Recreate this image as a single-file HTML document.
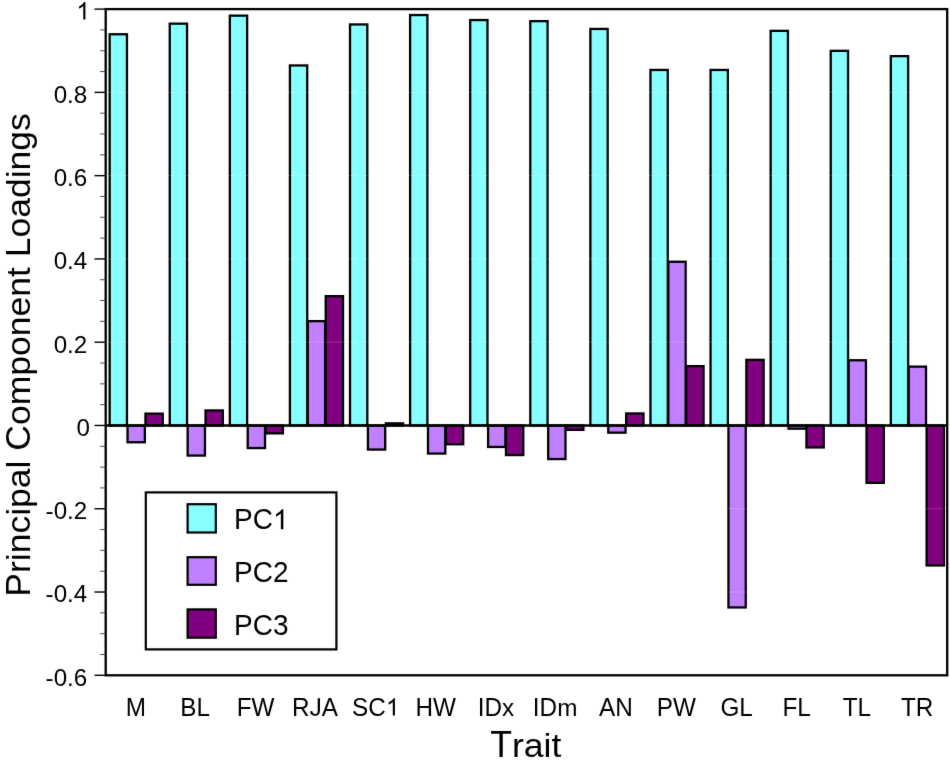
<!DOCTYPE html>
<html><head><meta charset="utf-8"><style>
html,body{margin:0;padding:0;background:#fff;width:950px;height:760px;overflow:hidden}
svg{display:block}
#w{}
text{font-family:"Liberation Sans", sans-serif;fill:#000;font-kerning:none}
</style></head><body>
<div id="w"><svg width="950" height="760" viewBox="0 0 950 760">
<defs><clipPath id="cabove" clipPathUnits="userSpaceOnUse"><rect x="-20" y="-100" width="200" height="100"/></clipPath><clipPath id="cbelow" clipPathUnits="userSpaceOnUse"><rect x="-20" y="-1" width="200" height="101"/></clipPath><filter id="bl" x="0" y="0" width="950" height="760" filterUnits="userSpaceOnUse" color-interpolation-filters="sRGB"><feConvolveMatrix order="3" kernelMatrix="0.00524 0.06192 0.00524 0.06192 0.73137 0.06192 0.00524 0.06192 0.00524" edgeMode="duplicate" preserveAlpha="true"/></filter></defs>
<g filter="url(#bl)">
<rect x="0" y="0" width="950" height="760" fill="#fff"/>
<rect x="109.65" y="34.25" width="17.30" height="391.25" fill="#88ffff" stroke="#000" stroke-width="2.3"/>
<rect x="127.55" y="425.50" width="17.30" height="16.75" fill="#c080ff" stroke="#000" stroke-width="2.3"/>
<rect x="145.45" y="413.65" width="17.30" height="11.85" fill="#800080" stroke="#000" stroke-width="2.3"/>
<rect x="169.74" y="23.65" width="17.30" height="401.85" fill="#88ffff" stroke="#000" stroke-width="2.3"/>
<rect x="187.64" y="425.50" width="17.30" height="30.05" fill="#c080ff" stroke="#000" stroke-width="2.3"/>
<rect x="205.54" y="410.45" width="17.30" height="15.05" fill="#800080" stroke="#000" stroke-width="2.3"/>
<rect x="229.83" y="15.65" width="17.30" height="409.85" fill="#88ffff" stroke="#000" stroke-width="2.3"/>
<rect x="247.73" y="425.50" width="17.30" height="22.55" fill="#c080ff" stroke="#000" stroke-width="2.3"/>
<rect x="265.63" y="425.50" width="17.30" height="7.85" fill="#800080" stroke="#000" stroke-width="2.3"/>
<rect x="289.92" y="65.45" width="17.30" height="360.05" fill="#88ffff" stroke="#000" stroke-width="2.3"/>
<rect x="307.82" y="321.15" width="17.30" height="104.35" fill="#c080ff" stroke="#000" stroke-width="2.3"/>
<rect x="325.72" y="296.15" width="17.30" height="129.35" fill="#800080" stroke="#000" stroke-width="2.3"/>
<rect x="350.01" y="24.45" width="17.30" height="401.05" fill="#88ffff" stroke="#000" stroke-width="2.3"/>
<rect x="367.91" y="425.50" width="17.30" height="24.05" fill="#c080ff" stroke="#000" stroke-width="2.3"/>
<rect x="385.81" y="423.35" width="17.30" height="2.15" fill="#800080" stroke="#000" stroke-width="2.3"/>
<rect x="410.10" y="15.05" width="17.30" height="410.45" fill="#88ffff" stroke="#000" stroke-width="2.3"/>
<rect x="428.00" y="425.50" width="17.30" height="28.05" fill="#c080ff" stroke="#000" stroke-width="2.3"/>
<rect x="445.90" y="425.50" width="17.30" height="18.75" fill="#800080" stroke="#000" stroke-width="2.3"/>
<rect x="470.19" y="20.05" width="17.30" height="405.45" fill="#88ffff" stroke="#000" stroke-width="2.3"/>
<rect x="488.09" y="425.50" width="17.30" height="21.45" fill="#c080ff" stroke="#000" stroke-width="2.3"/>
<rect x="505.99" y="425.50" width="17.30" height="29.55" fill="#800080" stroke="#000" stroke-width="2.3"/>
<rect x="530.28" y="21.15" width="17.30" height="404.35" fill="#88ffff" stroke="#000" stroke-width="2.3"/>
<rect x="548.18" y="425.50" width="17.30" height="33.55" fill="#c080ff" stroke="#000" stroke-width="2.3"/>
<rect x="566.08" y="425.50" width="17.30" height="4.35" fill="#800080" stroke="#000" stroke-width="2.3"/>
<rect x="590.37" y="28.95" width="17.30" height="396.55" fill="#88ffff" stroke="#000" stroke-width="2.3"/>
<rect x="608.27" y="425.50" width="17.30" height="7.15" fill="#c080ff" stroke="#000" stroke-width="2.3"/>
<rect x="626.17" y="413.45" width="17.30" height="12.05" fill="#800080" stroke="#000" stroke-width="2.3"/>
<rect x="650.46" y="69.95" width="17.30" height="355.55" fill="#88ffff" stroke="#000" stroke-width="2.3"/>
<rect x="668.36" y="261.75" width="17.30" height="163.75" fill="#c080ff" stroke="#000" stroke-width="2.3"/>
<rect x="686.26" y="366.15" width="17.30" height="59.35" fill="#800080" stroke="#000" stroke-width="2.3"/>
<rect x="710.55" y="69.95" width="17.30" height="355.55" fill="#88ffff" stroke="#000" stroke-width="2.3"/>
<rect x="728.45" y="425.50" width="17.30" height="181.95" fill="#c080ff" stroke="#000" stroke-width="2.3"/>
<rect x="746.35" y="359.85" width="17.30" height="65.65" fill="#800080" stroke="#000" stroke-width="2.3"/>
<rect x="770.64" y="30.85" width="17.30" height="394.65" fill="#88ffff" stroke="#000" stroke-width="2.3"/>
<rect x="788.54" y="425.50" width="17.30" height="3.15" fill="#c080ff" stroke="#000" stroke-width="2.3"/>
<rect x="806.44" y="425.50" width="17.30" height="21.95" fill="#800080" stroke="#000" stroke-width="2.3"/>
<rect x="830.73" y="50.85" width="17.30" height="374.65" fill="#88ffff" stroke="#000" stroke-width="2.3"/>
<rect x="848.63" y="360.25" width="17.30" height="65.25" fill="#c080ff" stroke="#000" stroke-width="2.3"/>
<rect x="866.53" y="425.50" width="17.30" height="57.35" fill="#800080" stroke="#000" stroke-width="2.3"/>
<rect x="890.82" y="56.15" width="17.30" height="369.35" fill="#88ffff" stroke="#000" stroke-width="2.3"/>
<rect x="908.72" y="366.65" width="17.30" height="58.85" fill="#c080ff" stroke="#000" stroke-width="2.3"/>
<rect x="926.62" y="425.50" width="17.30" height="139.95" fill="#800080" stroke="#000" stroke-width="2.3"/>
<line x1="105.7" y1="92.37" x2="947.2" y2="92.37" stroke="#ffffff" stroke-opacity="0.18" stroke-width="1"/>
<line x1="105.7" y1="175.65" x2="947.2" y2="175.65" stroke="#ffffff" stroke-opacity="0.18" stroke-width="1"/>
<line x1="105.7" y1="258.92" x2="947.2" y2="258.92" stroke="#ffffff" stroke-opacity="0.18" stroke-width="1"/>
<line x1="105.7" y1="342.20" x2="947.2" y2="342.20" stroke="#ffffff" stroke-opacity="0.18" stroke-width="1"/>
<line x1="105.7" y1="508.75" x2="947.2" y2="508.75" stroke="#ffffff" stroke-opacity="0.18" stroke-width="1"/>
<line x1="105.7" y1="592.02" x2="947.2" y2="592.02" stroke="#ffffff" stroke-opacity="0.18" stroke-width="1"/>
<line x1="105.7" y1="425.5" x2="947.2" y2="425.5" stroke="#000" stroke-width="2.3"/>
<rect x="105.7" y="9.1" width="841.50" height="666.20" fill="none" stroke="#000" stroke-width="2.3"/>
<line x1="94.5" y1="9.10" x2="105.7" y2="9.10" stroke="#000" stroke-width="1.4"/>
<line x1="100.2" y1="29.92" x2="105.7" y2="29.92" stroke="#333" stroke-width="0.9"/>
<line x1="100.2" y1="50.74" x2="105.7" y2="50.74" stroke="#333" stroke-width="0.9"/>
<line x1="100.2" y1="71.56" x2="105.7" y2="71.56" stroke="#333" stroke-width="0.9"/>
<line x1="94.5" y1="92.37" x2="105.7" y2="92.37" stroke="#000" stroke-width="1.4"/>
<line x1="100.2" y1="113.19" x2="105.7" y2="113.19" stroke="#333" stroke-width="0.9"/>
<line x1="100.2" y1="134.01" x2="105.7" y2="134.01" stroke="#333" stroke-width="0.9"/>
<line x1="100.2" y1="154.83" x2="105.7" y2="154.83" stroke="#333" stroke-width="0.9"/>
<line x1="94.5" y1="175.65" x2="105.7" y2="175.65" stroke="#000" stroke-width="1.4"/>
<line x1="100.2" y1="196.47" x2="105.7" y2="196.47" stroke="#333" stroke-width="0.9"/>
<line x1="100.2" y1="217.29" x2="105.7" y2="217.29" stroke="#333" stroke-width="0.9"/>
<line x1="100.2" y1="238.11" x2="105.7" y2="238.11" stroke="#333" stroke-width="0.9"/>
<line x1="94.5" y1="258.93" x2="105.7" y2="258.93" stroke="#000" stroke-width="1.4"/>
<line x1="100.2" y1="279.74" x2="105.7" y2="279.74" stroke="#333" stroke-width="0.9"/>
<line x1="100.2" y1="300.56" x2="105.7" y2="300.56" stroke="#333" stroke-width="0.9"/>
<line x1="100.2" y1="321.38" x2="105.7" y2="321.38" stroke="#333" stroke-width="0.9"/>
<line x1="94.5" y1="342.20" x2="105.7" y2="342.20" stroke="#000" stroke-width="1.4"/>
<line x1="100.2" y1="363.02" x2="105.7" y2="363.02" stroke="#333" stroke-width="0.9"/>
<line x1="100.2" y1="383.84" x2="105.7" y2="383.84" stroke="#333" stroke-width="0.9"/>
<line x1="100.2" y1="404.66" x2="105.7" y2="404.66" stroke="#333" stroke-width="0.9"/>
<line x1="94.5" y1="425.47" x2="105.7" y2="425.47" stroke="#000" stroke-width="1.4"/>
<line x1="100.2" y1="446.29" x2="105.7" y2="446.29" stroke="#333" stroke-width="0.9"/>
<line x1="100.2" y1="467.11" x2="105.7" y2="467.11" stroke="#333" stroke-width="0.9"/>
<line x1="100.2" y1="487.93" x2="105.7" y2="487.93" stroke="#333" stroke-width="0.9"/>
<line x1="94.5" y1="508.75" x2="105.7" y2="508.75" stroke="#000" stroke-width="1.4"/>
<line x1="100.2" y1="529.57" x2="105.7" y2="529.57" stroke="#333" stroke-width="0.9"/>
<line x1="100.2" y1="550.39" x2="105.7" y2="550.39" stroke="#333" stroke-width="0.9"/>
<line x1="100.2" y1="571.21" x2="105.7" y2="571.21" stroke="#333" stroke-width="0.9"/>
<line x1="94.5" y1="592.02" x2="105.7" y2="592.02" stroke="#000" stroke-width="1.4"/>
<line x1="100.2" y1="612.84" x2="105.7" y2="612.84" stroke="#333" stroke-width="0.9"/>
<line x1="100.2" y1="633.66" x2="105.7" y2="633.66" stroke="#333" stroke-width="0.9"/>
<line x1="100.2" y1="654.48" x2="105.7" y2="654.48" stroke="#333" stroke-width="0.9"/>
<line x1="94.5" y1="675.30" x2="105.7" y2="675.30" stroke="#000" stroke-width="1.4"/>
<text transform="translate(53.66,102.77) scale(1,1.020)" font-size="24.2">0</text>
<text transform="translate(67.12,102.77) scale(1,1.000)" font-size="24.2">.</text>
<text transform="translate(73.84,102.77) scale(1,1.020)" font-size="24.2">8</text>
<text transform="translate(53.66,186.05) scale(1,1.020)" font-size="24.2">0</text>
<text transform="translate(67.12,186.05) scale(1,1.000)" font-size="24.2">.</text>
<text transform="translate(73.84,186.05) scale(1,1.020)" font-size="24.2">6</text>
<text transform="translate(53.66,269.32) scale(1,1.020)" font-size="24.2">0</text>
<text transform="translate(67.12,269.32) scale(1,1.000)" font-size="24.2">.</text>
<text transform="translate(73.84,269.32) scale(1,1.020)" font-size="24.2">4</text>
<text transform="translate(53.66,352.60) scale(1,1.020)" font-size="24.2">0</text>
<text transform="translate(67.12,352.60) scale(1,1.000)" font-size="24.2">.</text>
<text transform="translate(73.84,352.60) scale(1,1.020)" font-size="24.2">2</text>
<text transform="translate(76.54,435.87) scale(1,1.020)" font-size="24.2">0</text>
<text transform="translate(45.60,519.15) scale(1,1.000)" font-size="24.2">-</text>
<text transform="translate(53.66,519.15) scale(1,1.020)" font-size="24.2">0</text>
<text transform="translate(67.12,519.15) scale(1,1.000)" font-size="24.2">.</text>
<text transform="translate(73.84,519.15) scale(1,1.020)" font-size="24.2">2</text>
<text transform="translate(45.60,602.42) scale(1,1.000)" font-size="24.2">-</text>
<text transform="translate(53.66,602.42) scale(1,1.020)" font-size="24.2">0</text>
<text transform="translate(67.12,602.42) scale(1,1.000)" font-size="24.2">.</text>
<text transform="translate(73.84,602.42) scale(1,1.020)" font-size="24.2">4</text>
<text transform="translate(45.60,685.70) scale(1,1.000)" font-size="24.2">-</text>
<text transform="translate(53.66,685.70) scale(1,1.020)" font-size="24.2">0</text>
<text transform="translate(67.12,685.70) scale(1,1.000)" font-size="24.2">.</text>
<text transform="translate(73.84,685.70) scale(1,1.020)" font-size="24.2">6</text>
<path d="M763 0H583V1147Q518 1085 412 1023Q306 961 222 930V1104Q373 1175 486 1276Q599 1377 646 1472H763Z" transform="translate(76.38,19.50) scale(0.01182,-0.01182)"/>
<text transform="translate(125.78,715.60) scale(1,1.040)" font-size="24.3">M</text>
<text transform="translate(180.18,715.60) scale(1,1.040)" font-size="24.3">B</text>
<text transform="translate(196.39,715.60) scale(1,1.040)" font-size="24.3">L</text>
<text transform="translate(236.69,715.60) scale(1,1.040)" font-size="24.3">F</text>
<text transform="translate(251.53,715.60) scale(1,1.040)" font-size="24.3">W</text>
<text transform="translate(292.07,715.60) scale(1,1.040)" font-size="24.3">R</text>
<path d="M457 -20Q99 -20 32 350L219 381Q237 265 300 200Q363 135 458 135Q562 135 622 206.5Q682 278 682 416V1466H872V420Q872 215 761 97.5Q650 -20 457 -20Z" transform="translate(309.62,715.60) scale(0.01187,-0.01187)"/>
<text transform="translate(321.77,715.60) scale(1,1.040)" font-size="24.3">A</text>
<text transform="translate(352.12,715.60) scale(1,1.040)" font-size="24.3">S</text>
<text transform="translate(368.33,715.60) scale(1,1.040)" font-size="24.3">C</text>
<path d="M763 0H583V1147Q518 1085 412 1023Q306 961 222 930V1104Q373 1175 486 1276Q599 1377 646 1472H763Z" transform="translate(385.88,715.60) scale(0.01187,-0.01187)"/>
<text transform="translate(415.46,715.60) scale(1,1.040)" font-size="24.3">H</text>
<text transform="translate(433.01,715.60) scale(1,1.040)" font-size="24.3">W</text>
<text transform="translate(477.66,715.60) scale(1,1.040)" font-size="24.3">I</text>
<text transform="translate(484.42,715.60) scale(1,1.040)" font-size="24.3">D</text>
<text transform="translate(501.96,715.60) scale(1,0.980)" font-size="24.3">x</text>
<text transform="translate(532.86,715.60) scale(1,1.040)" font-size="24.3">I</text>
<text transform="translate(539.61,715.60) scale(1,1.040)" font-size="24.3">D</text>
<text transform="translate(557.16,715.60) scale(1,0.980)" font-size="24.3">m</text>
<text transform="translate(599.04,715.60) scale(1,1.040)" font-size="24.3">A</text>
<text transform="translate(615.25,715.60) scale(1,1.040)" font-size="24.3">N</text>
<text transform="translate(656.84,715.60) scale(1,1.040)" font-size="24.3">P</text>
<text transform="translate(673.05,715.60) scale(1,1.040)" font-size="24.3">W</text>
<text transform="translate(720.39,715.60) scale(1,1.040)" font-size="24.3">G</text>
<text transform="translate(739.29,715.60) scale(1,1.040)" font-size="24.3">L</text>
<text transform="translate(782.41,715.60) scale(1,1.040)" font-size="24.3">F</text>
<text transform="translate(797.25,715.60) scale(1,1.040)" font-size="24.3">L</text>
<text transform="translate(842.70,715.60) scale(1,1.040)" font-size="24.3">T</text>
<text transform="translate(857.54,715.60) scale(1,1.040)" font-size="24.3">L</text>
<text transform="translate(900.92,715.60) scale(1,1.040)" font-size="24.3">T</text>
<text transform="translate(915.77,715.60) scale(1,1.040)" font-size="24.3">R</text>
<text transform="translate(490.20,757.40) scale(1,1.025)" font-size="35.6">T</text>
<text transform="translate(511.95,757.40) scale(1,0.950)" font-size="35.6">r</text>
<text transform="translate(523.80,757.40) scale(1,0.950)" font-size="35.6">a</text>
<text transform="translate(543.60,757.40) scale(1,0.950)" font-size="35.6">i</text>
<text transform="translate(551.51,757.40) scale(1,0.950)" font-size="35.6">t</text>
<text transform="translate(29.55,596.65) rotate(-90) scale(1,0.983)" font-size="35.5">P</text>
<text transform="translate(29.55,572.97) rotate(-90) scale(1,0.926)" font-size="35.5">r</text>
<text transform="translate(29.55,561.15) rotate(-90) scale(1,0.926)" font-size="35.5">i</text>
<text transform="translate(29.55,553.26) rotate(-90) scale(1,0.926)" font-size="35.5">n</text>
<text transform="translate(29.55,533.52) rotate(-90) scale(1,0.926)" font-size="35.5">c</text>
<text transform="translate(29.55,515.77) rotate(-90) scale(1,0.926)" font-size="35.5">i</text>
<text transform="translate(29.55,507.88) rotate(-90) scale(1,0.926)" font-size="35.5" clip-path="url(#cabove)">p</text>
<text transform="translate(29.55,507.88) rotate(-90)" font-size="35.5" clip-path="url(#cbelow)">p</text>
<text transform="translate(29.55,488.14) rotate(-90) scale(1,0.926)" font-size="35.5">a</text>
<text transform="translate(29.55,468.39) rotate(-90) scale(1,0.926)" font-size="35.5">l</text>
<text transform="translate(29.55,450.64) rotate(-90) scale(1,0.983)" font-size="35.5">C</text>
<text transform="translate(29.55,425.01) rotate(-90) scale(1,0.926)" font-size="35.5">o</text>
<text transform="translate(29.55,405.26) rotate(-90) scale(1,0.926)" font-size="35.5">m</text>
<text transform="translate(29.55,375.69) rotate(-90) scale(1,0.926)" font-size="35.5" clip-path="url(#cabove)">p</text>
<text transform="translate(29.55,375.69) rotate(-90)" font-size="35.5" clip-path="url(#cbelow)">p</text>
<text transform="translate(29.55,355.95) rotate(-90) scale(1,0.926)" font-size="35.5">o</text>
<text transform="translate(29.55,336.21) rotate(-90) scale(1,0.926)" font-size="35.5">n</text>
<text transform="translate(29.55,316.46) rotate(-90) scale(1,0.926)" font-size="35.5">e</text>
<text transform="translate(29.55,296.72) rotate(-90) scale(1,0.926)" font-size="35.5">n</text>
<text transform="translate(29.55,276.98) rotate(-90) scale(1,0.926)" font-size="35.5">t</text>
<text transform="translate(29.55,257.25) rotate(-90) scale(1,0.983)" font-size="35.5">L</text>
<text transform="translate(29.55,237.51) rotate(-90) scale(1,0.926)" font-size="35.5">o</text>
<text transform="translate(29.55,217.76) rotate(-90) scale(1,0.926)" font-size="35.5">a</text>
<text transform="translate(29.55,198.02) rotate(-90) scale(1,0.926)" font-size="35.5">d</text>
<text transform="translate(29.55,178.28) rotate(-90) scale(1,0.926)" font-size="35.5">i</text>
<text transform="translate(29.55,170.39) rotate(-90) scale(1,0.926)" font-size="35.5">n</text>
<text transform="translate(29.55,150.64) rotate(-90) scale(1,0.926)" font-size="35.5" clip-path="url(#cabove)">g</text>
<text transform="translate(29.55,150.64) rotate(-90)" font-size="35.5" clip-path="url(#cbelow)">g</text>
<text transform="translate(29.55,130.90) rotate(-90) scale(1,0.926)" font-size="35.5">s</text>
<rect x="145.8" y="492.4" width="190.6" height="157.0" fill="#fff" stroke="#000" stroke-width="2.2"/>
<rect x="187.6" y="504.2" width="28.2" height="28.3" fill="#88ffff" stroke="#000" stroke-width="2.2"/>
<rect x="187.6" y="557.2" width="28.2" height="27.6" fill="#c080ff" stroke="#000" stroke-width="2.2"/>
<rect x="187.6" y="609.4" width="28.2" height="28.3" fill="#800080" stroke="#000" stroke-width="2.2"/>
<text transform="translate(234.00,529.30) scale(1,1.040)" font-size="28">P</text>
<text transform="translate(252.68,529.30) scale(1,1.040)" font-size="28">C</text>
<path d="M763 0H583V1147Q518 1085 412 1023Q306 961 222 930V1104Q373 1175 486 1276Q599 1377 646 1472H763Z" transform="translate(272.90,529.30) scale(0.01367,-0.01367)"/>
<text transform="translate(234.00,582.40) scale(1,1.040)" font-size="28">P</text>
<text transform="translate(252.68,582.40) scale(1,1.040)" font-size="28">C</text>
<text transform="translate(272.90,582.40) scale(1,1.040)" font-size="28">2</text>
<text transform="translate(234.00,635.00) scale(1,1.040)" font-size="28">P</text>
<text transform="translate(252.68,635.00) scale(1,1.040)" font-size="28">C</text>
<text transform="translate(272.90,635.00) scale(1,1.040)" font-size="28">3</text>
</g>
</svg></div>
</body></html>
